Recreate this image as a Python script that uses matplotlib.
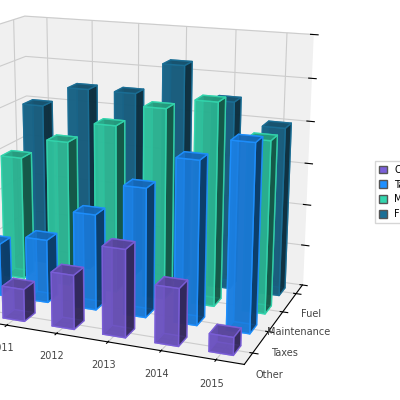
import matplotlib
matplotlib.use("Agg")
import matplotlib.pyplot as plt
import numpy as np
from matplotlib.patches import Patch

years = ["2010", "2011", "2012", "2013", "2014", "2015"]
series = ["Other", "Taxes", "Maintenance", "Fuel"]
other = [1.2, 1.5, 2.5, 4.0, 2.6, 0.8]
taxes = [2.5, 3.0, 4.5, 6.0, 7.5, 8.5]
maint = [6.0, 7.0, 8.0, 9.0, 9.5, 8.0]
fuel = [8.0, 9.0, 9.0, 10.5, 9.0, 8.0]
values = [other, taxes, maint, fuel]
colors = ["#7b5fd9", "#1e90ff", "#33d6ae", "#1b6f96"]

fig = plt.figure(figsize=(4, 4), dpi=100)
ax = fig.add_axes([-0.48, -0.02, 1.55, 1.14], projection="3d")
ax.set_proj_type("persp", focal_length=0.5)
ax.set_box_aspect((6, 4, 5.0), zoom=1.0)
for j in reversed(range(len(series))):
    for i in reversed(range(len(years))):
        ax.bar3d(i - 0.22, j - 0.22, 0, 0.44, 0.44, values[j][i],
                 color=colors[j], alpha=0.85, shade=True, edgecolor=colors[j])
ax.set_xticks(range(len(years)))
ax.set_xticklabels(years, fontsize=7, color="#444")
ax.set_yticks(range(len(series)))
ax.set_yticklabels(series, fontsize=7, color="#444")
ax.set_zticks([0, 2, 4, 6, 8, 10, 12])
ax.set_zticklabels([])
ax.set_zlim(0, 12)
ax.set_xlim(-0.5, 5.5)
ax.set_ylim(-0.5, 3.5)
for a in (ax.xaxis, ax.yaxis, ax.zaxis):
    a.set_pane_color((0.94, 0.94, 0.94, 1))
    a._axinfo["grid"]["color"] = "#cccccc"
ax.zaxis.line.set_color((0, 0, 0, 0))
ax.zaxis.set_tick_params(length=0)
ax.view_init(elev=16, azim=-68)
ax.tick_params(pad=1)

handles = [Patch(facecolor=c, edgecolor="#555") for c in colors]
fig.legend(handles, series, loc="center left", bbox_to_anchor=(0.925, 0.52),
           fontsize=7, frameon=True, edgecolor="#ccc", handlelength=0.8,
           handleheight=0.8, fancybox=False)
fig.savefig("out.png", dpi=100)
